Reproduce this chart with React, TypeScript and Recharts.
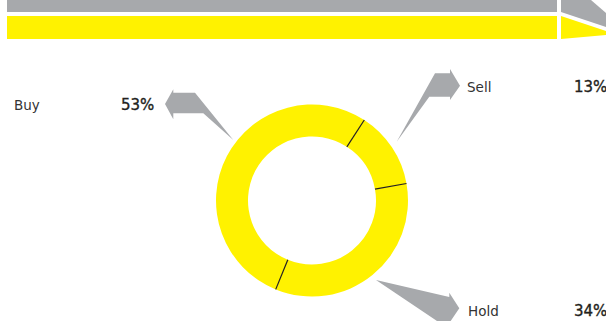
import { PieChart, Pie, Cell } from 'recharts'

const names = ['Sell', 'Hold', 'Buy']
const values = [13, 34, 53]

const data = names.map((name, i) => ({ name, value: values[i] }))

const YELLOW = '#fff200'
const GREY = '#a7a9ac'
const INK = '#231f20'
const FONT = '"DejaVu Sans", sans-serif'

const RAD = Math.PI / 180

// separator tick drawn at the start of each slice
const renderSeparator = (p: any) => {
  const { cx, cy, innerRadius, outerRadius, startAngle } = p
  const x1 = cx + innerRadius * Math.cos(-startAngle * RAD)
  const y1 = cy + innerRadius * Math.sin(-startAngle * RAD)
  const x2 = cx + outerRadius * Math.cos(-startAngle * RAD)
  const y2 = cy + outerRadius * Math.sin(-startAngle * RAD)
  return <line x1={x1} y1={y1} x2={x2} y2={y2} stroke={INK} strokeWidth={1.2} />
}

function Decor() {
  return (
    <svg width={606} height={321} style={{ position: 'absolute', left: 0, top: 0 }}>
      {/* top bands */}
      <rect x={7} y={0} width={550} height={12} fill={GREY} />
      <rect x={7} y={16} width={550} height={23} fill={YELLOW} />
      <polygon points="561,0 591,0 606,13 606,27 561,12" fill={GREY} />
      <polygon points="561,16 606,31 606,35 561,39" fill={YELLOW} />
      {/* arrows */}
      <polygon
        points="165,104 173.3,89.3 173.3,92.7 195,92.7 233.3,140 203.3,113.3 173.3,113.3 173.3,119.3"
        fill={GREY}
      />
      <polygon
        points="460,85.7 450,69 450,73.3 435,73.3 396.7,141.7 429.3,96.7 450,96.7 450,100"
        fill={GREY}
      />
      <polygon
        points="376,280 449.3,297 449.3,292.7 459.3,308.3 449.3,323 449.3,321 437,321"
        fill={GREY}
      />
    </svg>
  )
}

function Labels() {
  const pos: Record<string, { lx: number; vx: number; y: number }> = {
    Buy: { lx: 14, vx: 121, y: 110 },
    Sell: { lx: 467, vx: 574, y: 92 },
    Hold: { lx: 468, vx: 574, y: 316 },
  }
  return (
    <svg width={606} height={321} style={{ position: 'absolute', left: 0, top: 0 }}>
      {data.map((d) => (
        <g key={d.name} fontFamily={FONT}>
          <text x={pos[d.name].lx} y={pos[d.name].y} fontSize={13.5} fill="#333">
            {d.name}
          </text>
          <text
            x={pos[d.name].vx}
            y={pos[d.name].y}
            fontSize={15}
            fill={INK}
            stroke={INK}
            strokeWidth={0.35}
          >
            {d.value}%
          </text>
        </g>
      ))}
    </svg>
  )
}

export default function App() {
  return (
    <div style={{ position: 'absolute', left: 0, top: 0, width: 606, height: 321, background: '#fff', overflow: 'hidden' }}>
      <Decor />
      <div style={{ position: 'absolute', left: 0, top: 0 }}>
        <PieChart width={606} height={321} margin={{ top: 0, right: 0, bottom: 0, left: 0 }}>
          <Pie
            data={data}
            dataKey="value"
            nameKey="name"
            cx={312}
            cy={200.5}
            innerRadius={64}
            outerRadius={96}
            startAngle={57}
            endAngle={-303}
            stroke="none"
            label={renderSeparator}
            labelLine={false}
            isAnimationActive={false}
          >
            {data.map((d) => (
              <Cell key={d.name} fill={YELLOW} />
            ))}
          </Pie>
        </PieChart>
      </div>
      <Labels />
    </div>
  )
}
